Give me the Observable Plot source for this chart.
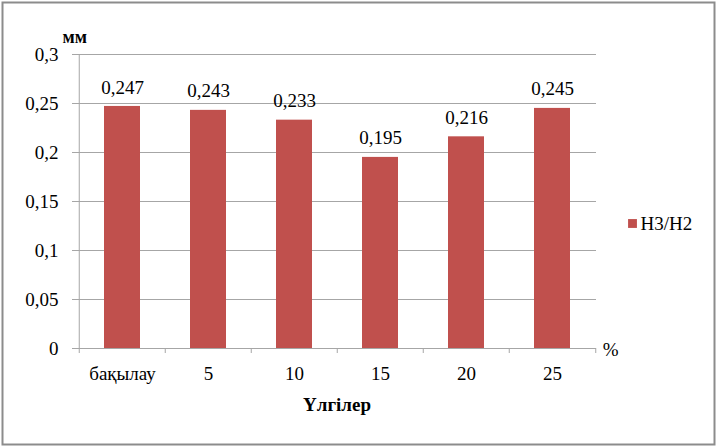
<!DOCTYPE html>
<html><head><meta charset="utf-8">
<script src="https://cdn.jsdelivr.net/npm/d3@7"></script>
<script src="https://cdn.jsdelivr.net/npm/@observablehq/plot@0.6"></script>
<style>
body{margin:0;background:#fff}
</style></head><body>
<div id="wrap"></div>
<script>
const categories = ["бақылау", "5", "10", "15", "20", "25"];
const values = [0.247, 0.243, 0.233, 0.195, 0.216, 0.245];
const yTicks = [0, 0.05, 0.1, 0.15, 0.2, 0.25, 0.3];
const seriesName = "Н3/Н2";
const yUnit = "мм";
const xUnit = "%";
const xTitle = "Үлгілер";

const data = categories.map((c, i) => ({cat: c, value: values[i]}));
const fmt = d => String(d).replace(".", ",");
const W = 716, H = 446, mL = 77, mR = 120, mT = 54, mB = 98;
const step = (W - mL - mR) / categories.length;
const barColor = "#C0504D";
const gridColor = "#a6a6a6";
const ff = "Liberation Serif";

const chart = Plot.plot({
  width: W, height: H,
  marginLeft: mL, marginRight: mR, marginTop: mT, marginBottom: mB,
  style: {fontFamily: ff, fontSize: "19px"},
  x: {domain: categories, padding: 0, label: null},
  y: {domain: [0, 0.3], label: null},
  marks: [
    Plot.frame({stroke: "#8c8c8c", strokeWidth: 2, insetLeft: -mL + 2, insetRight: -mR + 2, insetTop: -mT + 2, insetBottom: -mB + 2}),
    Plot.gridY(yTicks, {stroke: gridColor, strokeOpacity: 1}),
    Plot.ruleX([categories[0]], {dx: -step / 2, stroke: gridColor}),
    Plot.barY(data, {x: "cat", y: "value", fill: barColor, insetLeft: 25, insetRight: 25}),
    Plot.ruleY([0], {stroke: gridColor}),
    Plot.axisY(yTicks, {tickSize: 5, tickPadding: 14, tickFormat: fmt, stroke: gridColor, fill: "#000", fontFamily: ff, fontSize: 19, label: null}),
    Plot.axisX(categories, {tickSize: 5, fill: "none", stroke: gridColor, dx: -step / 2, label: null}),
    Plot.axisX([categories[categories.length - 1]], {tickSize: 5, fill: "none", stroke: gridColor, dx: step / 2, label: null}),
    Plot.axisX(categories, {tickSize: 0, tickPadding: 18, fill: "#000", fontFamily: ff, fontSize: 19, label: null}),
    Plot.text(data, {x: "cat", y: "value", text: d => fmt(d.value), dy: -19, fill: "#000", fontFamily: ff, fontSize: 19}),
    Plot.text([yUnit], {frameAnchor: "top-left", dx: -15, dy: -24, fontWeight: "bold", fill: "#000", fontFamily: ff, fontSize: 18}),
    Plot.text([xUnit], {frameAnchor: "bottom-right", dx: 22, dy: 7, fill: "#000", fontFamily: ff, fontSize: 19}),
    Plot.text([xTitle], {frameAnchor: "bottom", dy: 62, fontSize: 19, fontWeight: "bold", fill: "#000", fontFamily: ff}),
    Plot.dot([seriesName], {frameAnchor: "right", dx: 36, dy: 22, symbol: "square", r: 5, fill: barColor, stroke: "none"}),
    Plot.text([seriesName], {frameAnchor: "right", dx: 44, dy: 22, textAnchor: "start", fill: "#000", fontFamily: ff, fontSize: 19})
  ]
});
document.getElementById("wrap").append(chart);
</script>
</body></html>
